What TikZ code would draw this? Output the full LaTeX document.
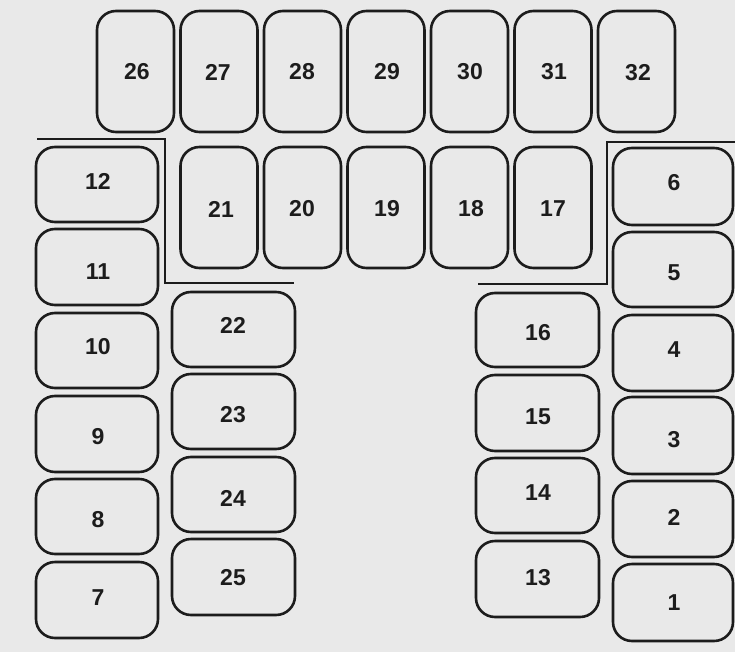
\documentclass[tikz,border=0pt]{standalone}
\usepackage{fontspec}
\setmainfont{Liberation Sans}
\definecolor{paper}{HTML}{E9E9E9}
\definecolor{ink}{HTML}{1C1C1C}
\tikzset{
  fuse/.style={draw=ink, line width=2.6pt, rounded corners=19pt, inner sep=0pt},
  num/.style={text=ink, font=\bfseries\fontsize{23}{23}\selectfont, inner sep=0pt, anchor=center},
  wall/.style={draw=ink, line width=2.4pt, line join=miter}
}
% \fz{name}{x1}{y1}{x2}{y2}{label}{lx}{ly}
\newcommand{\fz}[8]{%
  \node[fuse, minimum width={#4pt-#2pt}, minimum height={#5pt-#3pt}] (b#1) at ({(#2+#4)/2},{(#3+#5)/2}) {};
  \node[num] (t#1) at (#7,#8) {#6};
}
\begin{document}
\begin{tikzpicture}[x=1pt,y=-1pt]
\fill[paper] (0,0) rectangle (735,652);
\useasboundingbox (0,0) rectangle (735,652);
% top row
\fz{26}{97}{11}{174}{132}{26}{137}{72}
\fz{27}{180.5}{11}{257.5}{132}{27}{218}{72}
\fz{28}{264}{11}{341}{132}{28}{302}{72}
\fz{29}{347.5}{11}{424.5}{132}{29}{387}{72}
\fz{30}{431}{11}{508}{132}{30}{470}{72}
\fz{31}{514.5}{11}{591.5}{132}{31}{554}{72}
\fz{32}{598}{11}{675}{132}{32}{638}{73}
% second row
\fz{21}{180.5}{147}{257.5}{268}{21}{221}{209}
\fz{20}{264}{147}{341}{268}{20}{302}{209}
\fz{19}{347.5}{147}{424.5}{268}{19}{387}{209}
\fz{18}{431}{147}{508}{268}{18}{471}{209}
\fz{17}{514.5}{147}{591.5}{268}{17}{553}{209}
% left column
\fz{12}{36}{147}{158}{222}{12}{98}{181}
\fz{11}{36}{229}{158}{305}{11}{98}{272}
\fz{10}{36}{313}{158}{388}{10}{98}{347}
\fz{9}{36}{396}{158}{472}{9}{98}{437}
\fz{8}{36}{479}{158}{554}{8}{98}{520}
\fz{7}{36}{562}{158}{638}{7}{98}{598}
% column 22-25
\fz{22}{172}{292}{295}{367}{22}{233}{325}
\fz{23}{172}{374}{295}{449}{23}{233}{415}
\fz{24}{172}{457}{295}{532}{24}{233}{498}
\fz{25}{172}{539}{295}{615}{25}{233}{578}
% column 13-16
\fz{16}{476}{293}{599}{367}{16}{538}{333}
\fz{15}{476}{375}{599}{451}{15}{538}{417}
\fz{14}{476}{458}{599}{533}{14}{538}{493}
\fz{13}{476}{541}{599}{617}{13}{538}{578}
% right column
\fz{6}{613}{148}{733}{225}{6}{674}{183}
\fz{5}{613}{232}{733}{307}{5}{674}{273}
\fz{4}{613}{315}{733}{391}{4}{674}{350}
\fz{3}{613}{397}{733}{474}{3}{674}{440}
\fz{2}{613}{481}{733}{557}{2}{674}{517}
\fz{1}{613}{564}{733}{641}{1}{674}{603}
% partition lines
\coordinate (la) at (37,139);
\coordinate (lb) at (165,139);
\coordinate (lc) at (165,283);
\coordinate (ld) at (294,283);
\draw[wall] (la) -- (lb) -- (lc) -- (ld);
\coordinate (ra) at (478,284);
\coordinate (rb) at (607,284);
\coordinate (rc) at (607,142);
\coordinate (rd) at (735,142);
\draw[wall] (ra) -- (rb) -- (rc) -- (rd);
\end{tikzpicture}
\end{document}
